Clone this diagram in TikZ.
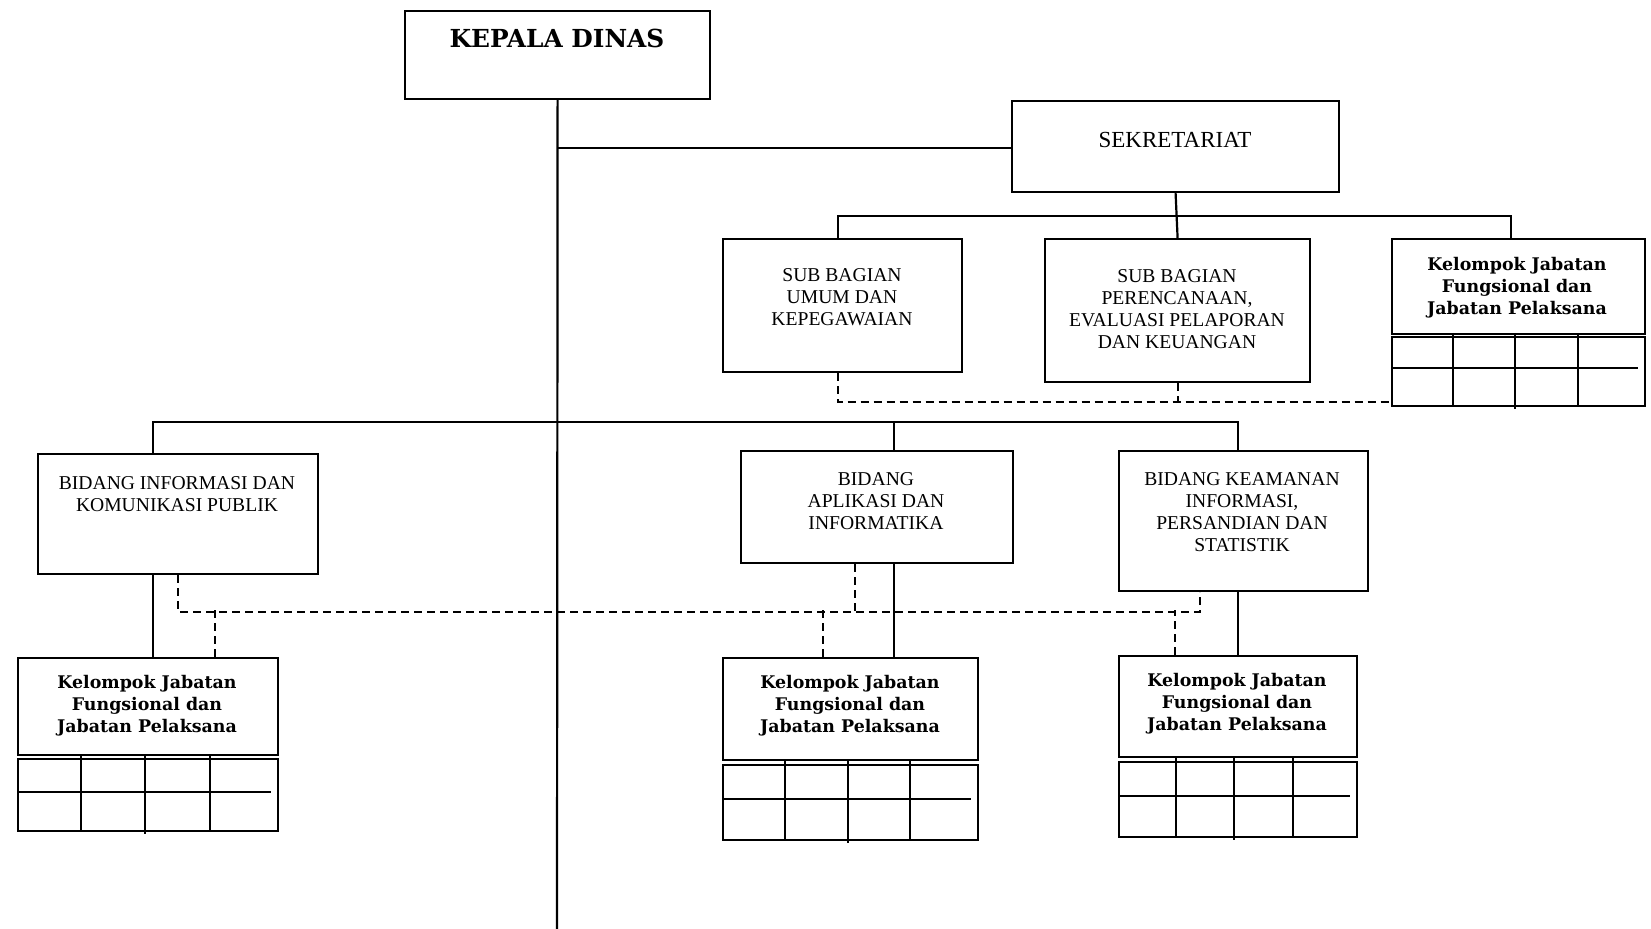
\documentclass[tikz,border=0pt]{standalone}
\usepackage{fontspec}
\setmainfont{Liberation Serif}
\newfontfamily\dvs{DejaVu Serif}
\usetikzlibrary{calc}
\newcommand\boxat[5]{%
  \node[box,anchor=north west,minimum width={(#4-#2)*0.5pt},minimum height={(#5-#3)*0.5pt}] (#1) at (#2,#3) {};}
\newcommand\gridat[9]{%
  \boxat{#1}{#2}{#3}{#4}{#5}
  \draw[conn] (#6,#3-3) -- (#6,#5);
  \draw[conn] (#7,#3-3) -- (#7,#5+4);
  \draw[conn] (#8,#3-3) -- (#8,#5);
  \draw[conn] (#2,#9) -- (#4-6,#9);}
\begin{document}
\begin{tikzpicture}[x=0.5pt,y=-0.5pt,
  box/.style={draw,line width=1.1pt,inner sep=0pt},
  conn/.style={line width=1.1pt},
  dsh/.style={line width=1.1pt,dash pattern=on 4pt off 2.5pt},
  reg/.style={font=\fontsize{9.8}{11}\selectfont,align=center,inner sep=0pt},
  bld/.style={font=\dvs\bfseries\fontsize{8.7}{11}\selectfont,align=center,inner sep=0pt}]
\useasboundingbox (0,0) rectangle (1651,929);
% boxes
\boxat{kd}{404}{10}{709}{98}
\boxat{sek}{1011}{100}{1338}{191}
\boxat{sbu}{722}{238}{961}{371}
\boxat{sbp}{1044}{238}{1309}{381}
\boxat{kel1}{1391}{238}{1644}{333}
\gridat{g1}{1391}{336}{1644}{405}{1453}{1515}{1578}{368}
\boxat{bikp}{37}{453}{317}{573}
\boxat{bai}{740}{450}{1012}{562}
\boxat{bkips}{1118}{450}{1367}{590}
\boxat{kel2}{17}{657}{277}{754}
\gridat{g2}{17}{758}{277}{830}{81}{145}{210}{792}
\boxat{kel3}{722}{657}{977}{759}
\gridat{g3}{722}{764}{977}{839}{785}{848}{910}{799}
\boxat{kel4}{1118}{655}{1356}{756}
\gridat{g4}{1118}{761}{1356}{836}{1176}{1234}{1293}{796}
% texts
\node[inner sep=0pt,font=\dvs\bfseries\fontsize{12.4}{14}\selectfont] (tkd) at (557,38) {KEPALA DINAS};
\node[inner sep=0pt,font=\fontsize{11.5}{13}\selectfont] (tsek) at (1175,140) {SEKRETARIAT};
\node[reg] (tsbu) at (842,297) {SUB BAGIAN\\UMUM DAN\\KEPEGAWAIAN};
\node[reg] (tsbp) at (1177,309) {SUB BAGIAN\\PERENCANAAN,\\EVALUASI PELAPORAN\\DAN KEUANGAN};
\node[bld] (tkel1) at (1517,288) {Kelompok Jabatan\\Fungsional dan\\Jabatan Pelaksana};
\node[reg] (tbikp) at (177,494) {BIDANG INFORMASI DAN\\KOMUNIKASI PUBLIK};
\node[reg] (tbai) at (876,501) {BIDANG\\APLIKASI DAN\\INFORMATIKA};
\node[reg] (tbkips) at (1242,512) {BIDANG KEAMANAN\\INFORMASI,\\PERSANDIAN DAN\\STATISTIK};
\node[bld] (tkel2) at (147,706) {Kelompok Jabatan\\Fungsional dan\\Jabatan Pelaksana};
\node[bld] (tkel3) at (850,706) {Kelompok Jabatan\\Fungsional dan\\Jabatan Pelaksana};
\node[bld] (tkel4) at (1237,704) {Kelompok Jabatan\\Fungsional dan\\Jabatan Pelaksana};
% solid connectors
\coordinate (bot) at (557,929);
\draw[conn] (kd.south) -- (bot);
\draw[conn] (kd.south |- {$(sek.north west)+(0,48)$}) -- ($(sek.north west)+(0,48)$);
\draw[conn] (sek.south) -- (sbp.north);
\draw[conn] ($(sbu.north)+(-5,0)$) -- ++(0,-22) -| ($(kel1.north)+(-8,0)$);
\draw[conn] ($(bikp.north west)+(116,0)$) -- ++(0,-31) -| ($(bkips.north west)+(120,0)$);
\draw[conn] ($(bai.north west)+(154,0)$) -- ++(0,-28);
\draw[conn] ($(bikp.south west)+(116,0)$) -- ($(kel2.north west)+(136,0)$);
\draw[conn] ($(bai.south west)+(154,0)$) -- ($(kel3.north west)+(172,0)$);
\draw[conn] ($(bkips.south west)+(120,0)$) -- ($(kel4.north west)+(120,0)$);
% dashed connectors
\draw[dsh] ($(sbu.south)+(-5,0)$) |- ($(g1.south west)+(0,-5)$);
\draw[dsh] (sbp.south) -- ++(0,19);
\draw[dsh] ($(bikp.south west)+(141,0)$) |- ($(bkips.south west)+(82,20)$) -- ($(bkips.south west)+(82,0)$);
\draw[dsh] ($(bai.south west)+(115,0)$) -- ++(0,48);
\draw[dsh] ($(kel2.north west)+(198,0)$) -- ++(0,-47);
\draw[dsh] ($(kel3.north west)+(101,0)$) -- ++(0,-47);
\draw[dsh] ($(kel4.north west)+(57,0)$) -- ++(0,-45);
\end{tikzpicture}
\end{document}
